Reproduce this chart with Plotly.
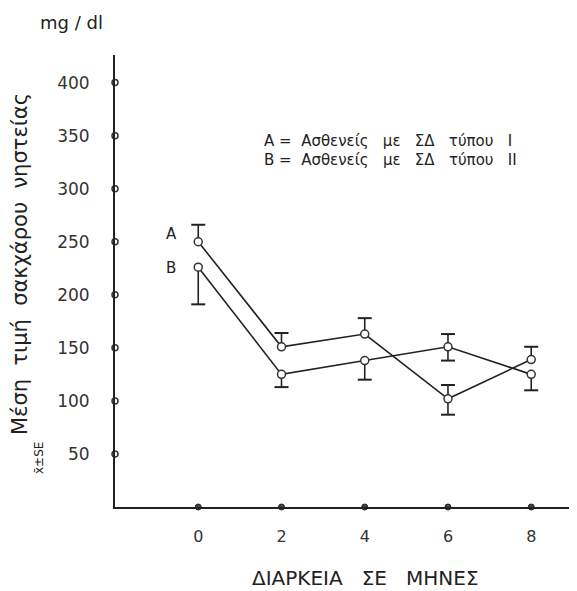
import plotly.graph_objects as go

# ---- data ----
months = [0, 2, 4, 6, 8]
a_mean = [250, 151, 163, 102, 139]
a_err_plus = [16, 13, 15, 13, 12]
a_err_minus = [0, 0, 0, 15, 0]
b_mean = [226, 125, 138, 151, 125]
b_err_plus = [0, 0, 0, 12, 0]
b_err_minus = [35, 12, 18, 13, 15]

y_ticks = [50, 100, 150, 200, 250, 300, 350, 400]
x_ticks = [0, 2, 4, 6, 8]

OFF = 8  # page body margin
W, H = 577 - OFF, 591 - OFF
# plot area in screenshot coords: x 115..577, y 55..507
ML, MT = 115 - OFF, 55 - OFF
MR = 0
MB = H - (507 - OFF)
X_RANGE = [-2, 9.1]
Y_RANGE = [0, 426]

def px(x, y):
    fx, fy = x - OFF, y - OFF
    return (fx - ML) / (W - ML - MR), (H - MB - fy) / (H - MT - MB)

LINE = "#222222"

fig = go.Figure()

def whiskers(xs, ys, plus, minus):
    lx, ly, cx, cy = [], [], [], []
    for x, y, p, m in zip(xs, ys, plus, minus):
        if p > 0:
            lx += [x, x, None]; ly += [y, y + p, None]
            cx.append(x); cy.append(y + p)
        if m > 0:
            lx += [x, x, None]; ly += [y, y - m, None]
            cx.append(x); cy.append(y - m)
    return lx, ly, cx, cy

for mean, ep, em in [(a_mean, a_err_plus, a_err_minus), (b_mean, b_err_plus, b_err_minus)]:
    lx, ly, cx, cy = whiskers(months, mean, ep, em)
    fig.add_trace(go.Scatter(x=lx, y=ly, mode="lines", line=dict(color=LINE, width=1.6),
                             hoverinfo="skip", showlegend=False))
    fig.add_trace(go.Scatter(x=cx, y=cy, mode="markers",
                             marker=dict(symbol="line-ew", size=10, line=dict(color=LINE, width=2)),
                             hoverinfo="skip", showlegend=False))

for name, mean in [("A", a_mean), ("B", b_mean)]:
    fig.add_trace(go.Scatter(x=months, y=mean, mode="lines+markers", name=name,
                             line=dict(color=LINE, width=1.6),
                             marker=dict(symbol="circle", size=8, color="white",
                                         line=dict(color="#333333", width=1.5)),
                             showlegend=False))

# tick dots on axes
fig.add_trace(go.Scatter(x=[X_RANGE[0]] * len(y_ticks), y=y_ticks, mode="markers",
                         marker=dict(size=6, color="white", line=dict(color="#333", width=1.5)),
                         cliponaxis=False, hoverinfo="skip", showlegend=False))
fig.add_trace(go.Scatter(x=x_ticks, y=[0] * len(x_ticks), mode="markers",
                         marker=dict(size=6, color="#444", line=dict(color="#222", width=1)),
                         cliponaxis=False, hoverinfo="skip", showlegend=False))

FONT = "DejaVu Sans"
fig.update_layout(
    width=W, height=H,
    margin=dict(l=ML, r=MR, t=MT, b=MB),
    paper_bgcolor="white", plot_bgcolor="white",
    font=dict(family=FONT, color="#222"),
    xaxis=dict(range=X_RANGE, tickvals=x_ticks, ticktext=[str(v) for v in x_ticks],
               showgrid=False, zeroline=False, showline=True, linecolor="#222", linewidth=2,
               ticks="", ticklabelstandoff=14, tickfont=dict(size=16, family=FONT, color="#333")),
    yaxis=dict(range=Y_RANGE, tickvals=y_ticks, ticktext=[str(v) for v in y_ticks],
               showgrid=False, zeroline=False, showline=True, linecolor="#222", linewidth=2,
               ticks="", ticklabelstandoff=20, tickfont=dict(size=17, family=FONT, color="#333")),
)

def ann(text, x, y, size, angle=0, xanchor="center"):
    ax, ay = px(x, y)
    fig.add_annotation(text=text, x=ax, y=ay, xref="paper", yref="paper", showarrow=False,
                       xanchor=xanchor, yanchor="middle",
                       textangle=angle, font=dict(size=size, family=FONT, color="#222"))

ann("mg / dl", 71, 22, 18)
ann("Μέση  τιμή  σακχάρου  νηστείας", 20, 264, 21, angle=-90)
ann("x\u0304±SE", 39, 458, 12, angle=-90)
ann("A", 171, 234, 15)
ann("B", 171, 268, 15)
ann("A =  Ασθενείς   με   ΣΔ   τύπου   Ι", 262, 141, 15, xanchor="left")
ann("B =  Ασθενείς   με   ΣΔ   τύπου   ΙΙ", 262, 160, 15, xanchor="left")
ann("ΔΙΑΡΚΕΙΑ   ΣΕ   ΜΗΝΕΣ", 365, 578, 20)

fig.write_html("out.html")
